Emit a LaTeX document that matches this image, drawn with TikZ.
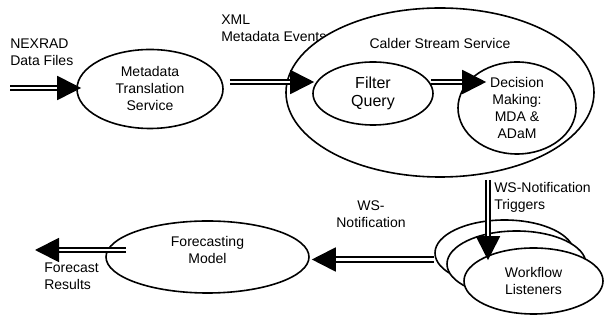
\documentclass[tikz,border=0pt]{standalone}
\usepackage{fontspec}
\setmainfont{Liberation Sans}
\usetikzlibrary{shapes.geometric, arrows.meta}

\begin{document}
\begin{tikzpicture}[x=0.75pt, y=-0.75pt, font=\fontsize{10.5}{12.75}\selectfont]
        \tikzstyle{proc} = [ellipse, draw=black, line width=1.2pt, fill=white, inner sep=0pt, align=center]
        \tikzstyle{txt} = [inner sep=0pt]
        \tikzstyle{flow} = [draw=black, line width=1.4pt, double=white, double distance=2.2pt, -{Triangle[length=18pt, width=18pt]}]

        \useasboundingbox (0,0) rectangle (604,323);

        % Input
        \node[txt, anchor=west, align=left] (nexrad) at (10,52) {NEXRAD\\Data Files};
        \coordinate (nexin) at (10,88);

        % Translation
        \node[proc, minimum width=109.5pt, minimum height=59.25pt] (mts) at (150,89) {Metadata\\Translation\\Service};
        \node[txt, anchor=west, align=left] (xml) at (221,28) {XML\\Metadata Events};

        % Calder Stream Service
        \node[proc, minimum width=231pt, minimum height=126.75pt, label={[txt, yshift=36.4pt]center:Calder Stream Service}] (calder) at (440,92.5) {};
        \node[proc, minimum width=90pt, minimum height=47.25pt, font=\fontsize{12}{13.5}\selectfont] (fq) at (373,93.5) {Filter\\Query};
        \node[proc, minimum width=88.5pt, minimum height=69pt] (dm) at (517,108) {Decision\\Making:\\MDA \&\\ADaM};

        % Workflow Listeners
        \node[proc, minimum width=104.25pt, minimum height=49.5pt] (wl1) at (504.5,253) {};
        \node[proc, minimum width=104.25pt, minimum height=49.5pt] (wl2) at (516.5,264) {};
        \node[proc, minimum width=104.25pt, minimum height=49.5pt] (wl3) at (533.5,281) {Workflow\\Listeners};
        \node[txt, anchor=west, align=left] (trig) at (494,197.5) {WS-Notification\\Triggers};
        \node[txt, align=center] (wsn) at (371,214) {WS-\\Notification};

        % Forecasting
        \node[proc, minimum width=152.25pt, minimum height=54pt, label={[txt, align=center, yshift=5.2pt]center:Forecasting\\Model}] (fm) at (207.5,257) {};
        \node[txt, anchor=west, align=left] (fcres) at (44,276.5) {Forecast\\Results};
        \coordinate (fcout) at (35,250);

        \draw[flow] (nexin) -- ([shift={(5,-1)}]mts.west);
        \draw[flow] ([shift={(6,-7)}]mts.east) -- ([shift={(2,-11.5)}]fq.west);
        \draw[flow] ([shift={(-3,-11.5)}]fq.east) -- ([shift={(29,-26)}]dm.west);
        \draw[flow] ([shift={(48,2)}]calder.south) -- ([shift={(-45.5,13)}]wl3.north);
        \draw[flow] ([shift={(0,6.5)}]wl1.west) -- ([shift={(2,2.5)}]fm.east);
        \draw[flow] ([shift={(21,-7)}]fm.west) -- (fcout);
\end{tikzpicture}
\end{document}
